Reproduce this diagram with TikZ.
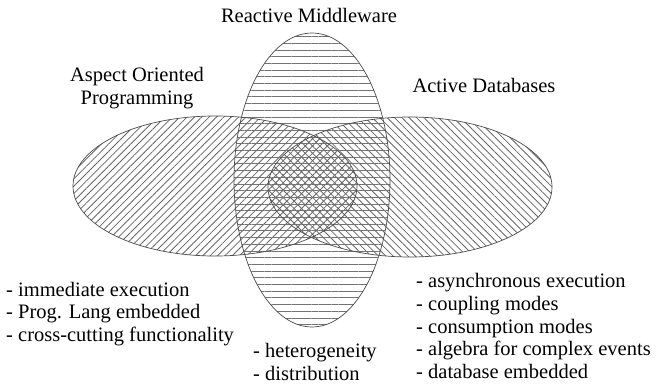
\documentclass[tikz,border=0pt]{standalone}
\usepackage{fontspec}
\setmainfont{Liberation Serif}
\usetikzlibrary{patterns.meta,shapes.geometric}
\begin{document}
\begin{tikzpicture}[x=1pt,y=-1pt,
  region/.style={ellipse, inner sep=0pt, outer sep=0pt},
  rim/.style={draw=black!70, line width=0.7pt},
  lbl/.style={font=\fontsize{20.5}{22.5}\selectfont, text=black, inner sep=0pt, align=center},
  lst/.style={font=\fontsize{20.5}{22.8}\selectfont, text=black, inner sep=0pt, align=left, anchor=west}]
\useasboundingbox[fill=white] (0,0) rectangle (658,385);
% regions (hatching)
\node[region, minimum width=284pt, minimum height=140pt,
  pattern={Lines[angle=45,distance=5.2pt,line width=0.8pt]}, pattern color=black!60] (aop) at (215,186) {};
\node[region, minimum width=284pt, minimum height=140pt,
  pattern={Lines[angle=-45,distance=5.2pt,line width=0.8pt]}, pattern color=black!60] (adb) at (410,187) {};
\node[region, minimum width=156pt, minimum height=294pt,
  pattern={Lines[angle=0,distance=6.7pt,line width=0.8pt]}, pattern color=black!55] (rm) at (312,180) {};
% outlines
\node[region, rim, minimum width=284pt, minimum height=140pt] at (aop) {};
\node[region, rim, minimum width=284pt, minimum height=140pt] at (adb) {};
\node[region, rim, minimum width=156pt, minimum height=294pt] at (rm) {};
% labels
\node[lbl] (trm) at (309,15) {Reactive Middleware};
\node[lbl] (taop) at (137,88) {Aspect Oriented\\Programming};
\node[lbl] (tadb) at (484,85) {Active Databases};
% lists
\node[lst] (laop) at (6,314) {- immediate execution\\- Prog. Lang embedded\\- cross-cutting functionality};
\node[lst] (lrm) at (253,362) {- heterogeneity\\- distribution};
\node[lst] (ladb) at (416,326) {- asynchronous execution\\- coupling modes\\- consumption modes\\- algebra for complex events\\- database embedded};
\end{tikzpicture}
\end{document}
